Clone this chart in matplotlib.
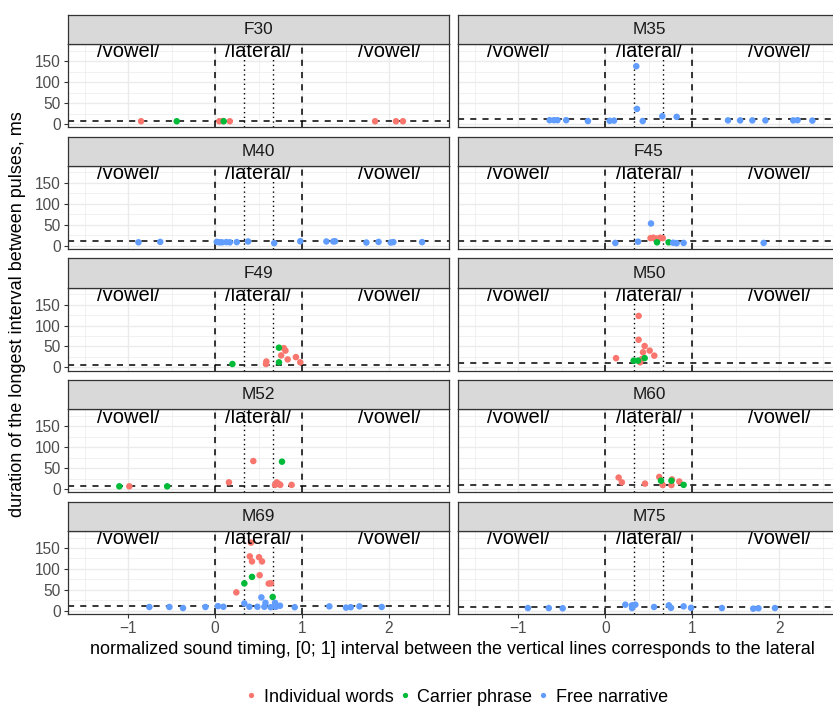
import matplotlib
matplotlib.use("Agg")
import matplotlib.pyplot as plt
from matplotlib.lines import Line2D

plt.rcParams["font.family"] = ["Liberation Sans", "DejaVu Sans"]

# ---- data: (normalized time, longest interval in ms) ----
f30_words = [(-0.85, 6.5), (0.05, 6.5), (0.09, 7), (0.17, 6.5), (1.84, 6.5), (2.08, 6.5), (2.16, 6.5)]
f30_carrier = [(-0.44, 6.5), (0.10, 6.5)]
f30_free = []

m35_words = []
m35_carrier = []
m35_free = [(-0.64, 9), (-0.59, 9), (-0.55, 9), (-0.45, 9), (-0.2, 7), (0.05, 7.5), (0.1, 8),
            (0.356, 138), (0.364, 36), (0.43, 7), (0.655, 18.5), (0.82, 17), (1.41, 8.5),
            (1.55, 8.5), (1.69, 8.5), (1.84, 8.5), (2.16, 8.5), (2.21, 9), (2.38, 8)]

m40_words = []
m40_carrier = []
m40_free = [(-0.88, 8), (-0.63, 9), (0.02, 9), (0.05, 8), (0.08, 8), (0.13, 8.5), (0.17, 8),
            (0.25, 8.5), (0.38, 10), (0.68, 6), (0.98, 10.5), (1.28, 10), (1.36, 10), (1.38, 10.5),
            (1.74, 7.5), (1.88, 9), (2.02, 7.5), (2.05, 8.5), (2.38, 8.5)]

f45_words = [(0.52, 18), (0.55, 19), (0.59, 17), (0.60, 13), (0.63, 19), (0.66, 18)]
f45_carrier = [(0.594, 8), (0.728, 8)]
f45_free = [(0.115, 6.5), (0.376, 9.5), (0.525, 53), (0.78, 7), (0.82, 6), (0.90, 6.5), (1.82, 6.5)]

f49_words = [(0.586, 8), (0.59, 14), (0.79, 46), (0.81, 40), (0.76, 28.5), (0.835, 19),
             (0.93, 24.5), (0.98, 12)]
f49_carrier = [(0.2, 8), (0.735, 47), (0.735, 12)]
f49_free = []

m50_words = [(0.383, 123), (0.383, 66), (0.452, 51), (0.51, 40), (0.433, 36), (0.563, 28),
             (0.123, 22), (0.40, 12), (0.42, 20)]
m50_carrier = [(0.326, 16), (0.376, 16), (0.452, 22)]
m50_free = []

m52_words = [(-0.985, 6.5), (0.16, 16), (0.44, 67), (0.71, 16), (0.735, 12), (0.75, 10),
             (0.69, 10), (0.88, 10)]
m52_carrier = [(-1.1, 6.5), (-0.55, 6.5), (0.77, 65.5)]
m52_free = []

m60_words = [(0.153, 27.5), (0.19, 16), (0.456, 13), (0.62, 29), (0.66, 9.5), (0.76, 9.5),
             (0.766, 23), (0.85, 18)]
m60_carrier = [(0.64, 20), (0.76, 20), (0.9, 10)]
m60_free = []

m69_words = [(0.414, 163), (0.40, 130), (0.425, 118), (0.506, 128), (0.54, 118), (0.513, 85),
             (0.617, 65), (0.644, 65.5), (0.245, 44)]
m69_carrier = [(0.337, 65.5), (0.425, 81), (0.663, 33)]
m69_free = [(-0.755, 9), (-0.525, 9), (-0.368, 6.5), (-0.11, 9), (0.034, 11), (0.096, 9.5),
            (0.337, 17.5), (0.395, 9.5), (0.487, 9.5), (0.533, 32), (0.567, 9.5), (0.58, 19),
            (0.64, 8.5), (0.69, 19), (0.70, 9.5), (0.747, 12), (0.916, 8.5), (1.314, 10.5),
            (1.506, 7.5), (1.56, 8.5), (1.66, 10.5), (1.916, 9)]

m75_words = []
m75_carrier = []
m75_free = [(-0.89, 6.5), (-0.65, 6.5), (-0.49, 6), (0.23, 14.5), (0.307, 13), (0.307, 6.5),
            (0.345, 14.5), (0.56, 9), (0.73, 13), (0.755, 7), (0.9, 10.5), (0.985, 7),
            (1.34, 6.5), (1.70, 5), (1.76, 6), (1.95, 6.5)]

speakers = ["F30", "M35", "M40", "F45", "F49", "M50", "M52", "M60", "M69", "M75"]
baselines = [8, 12, 12, 10.5, 6.5, 10.5, 8, 10, 10.5, 9]
panel_points = [
    (f30_words, f30_carrier, f30_free), (m35_words, m35_carrier, m35_free),
    (m40_words, m40_carrier, m40_free), (f45_words, f45_carrier, f45_free),
    (f49_words, f49_carrier, f49_free), (m50_words, m50_carrier, m50_free),
    (m52_words, m52_carrier, m52_free), (m60_words, m60_carrier, m60_free),
    (m69_words, m69_carrier, m69_free), (m75_words, m75_carrier, m75_free),
]
groups = ["Individual words", "Carrier phrase", "Free narrative"]
colors = ["#F8766D", "#00BA38", "#619CFF"]
region_labels = ["/vowel/", "/lateral/", "/vowel/"]
region_x = [-1, 0.5, 2]

W, H = 833, 706
fig = plt.figure(figsize=(W / 100, H / 100), dpi=100)

# panel grid in pixels (right column runs past the figure edge, as in the reference)
col_left = [68, 458.3]
col_right = [449.3, 839.6]
pitch = 121.7
strip_h = 29.3
panel_h = 83


def box(l, r, t, b):
    return [l / W, 1 - b / H, (r - l) / W, (b - t) / H]


for i, name in enumerate(speakers):
    row, col = divmod(i, 2)
    top = 15 + pitch * row
    l, r = col_left[col], col_right[col]

    ax = fig.add_axes(box(l, r, top + strip_h, top + strip_h + panel_h))
    ax.set_xlim(-1.69, 2.693)
    ax.set_ylim(-8, 190.5)
    ax.set_xticks([-1, 0, 1, 2])
    ax.set_xticks([-1.5, -0.5, 0.5, 1.5, 2.5], minor=True)
    ax.set_yticks([0, 50, 100, 150])
    ax.set_yticks([25, 75, 125, 175], minor=True)
    ax.grid(which="major", color="#EBEBEB", lw=1.0)
    ax.grid(which="minor", color="#EBEBEB", lw=0.5)
    ax.set_axisbelow(True)
    ax.tick_params(which="minor", length=0)
    ax.tick_params(which="major", length=2.75, width=0.8, color="#333333",
                   labelsize=11.2, labelcolor="#4D4D4D", pad=2.5)
    if row != 4:
        ax.tick_params(bottom=False, labelbottom=False)
    if col != 0:
        ax.tick_params(left=False, labelleft=False)
    for sp in ax.spines.values():
        sp.set_color("#333333")
        sp.set_linewidth(0.9)

    ax.axhline(baselines[i], color="black", lw=1.1, dashes=(4, 4), zorder=2)
    for xv in (0, 1):
        ax.axvline(xv, color="black", lw=1.1, dashes=(4, 4), zorder=2)
    for xv in (1 / 3, 2 / 3):
        ax.axvline(xv, color="black", lw=1.0, dashes=(1, 2.4), zorder=2)

    for pts, c in zip(panel_points[i], colors):
        if pts:
            xs = [p[0] for p in pts]
            ys = [p[1] for p in pts]
            ax.scatter(xs, ys, s=22, color=c, edgecolors="none", zorder=3)

    for lab, xv in zip(region_labels, region_x):
        ax.text(xv, 159, lab, ha="center", va="baseline", fontsize=14.5, zorder=4)

    sax = fig.add_axes(box(l, r, top, top + strip_h))
    sax.set_facecolor("#D9D9D9")
    sax.set_xticks([])
    sax.set_yticks([])
    for sp in sax.spines.values():
        sp.set_color("#333333")
        sp.set_linewidth(0.9)
    sax.text(0.5, 0.5, name, ha="center", va="center", fontsize=12.4,
             color="#1A1A1A", transform=sax.transAxes)

fig.text(18 / W, 1 - 314.5 / H, "duration of the longest interval between pulses, ms",
         rotation=90, ha="center", va="center", fontsize=13)
fig.text(452.5 / W, 1 - 650 / H,
         "normalized sound timing, [0; 1] interval between the vertical lines corresponds to the lateral",
         ha="center", va="center", fontsize=13)

handles = [Line2D([], [], marker="o", ls="", color=c, markersize=3.8, markeredgewidth=0)
           for c in colors]
fig.legend(handles, groups, loc="center", bbox_to_anchor=(456 / W, 1 - 697 / H), ncol=3,
           frameon=False, fontsize=13, handlelength=0.8, handletextpad=0.3,
           columnspacing=0.2, borderaxespad=0, borderpad=0)

fig.savefig("out.png", dpi=100)
